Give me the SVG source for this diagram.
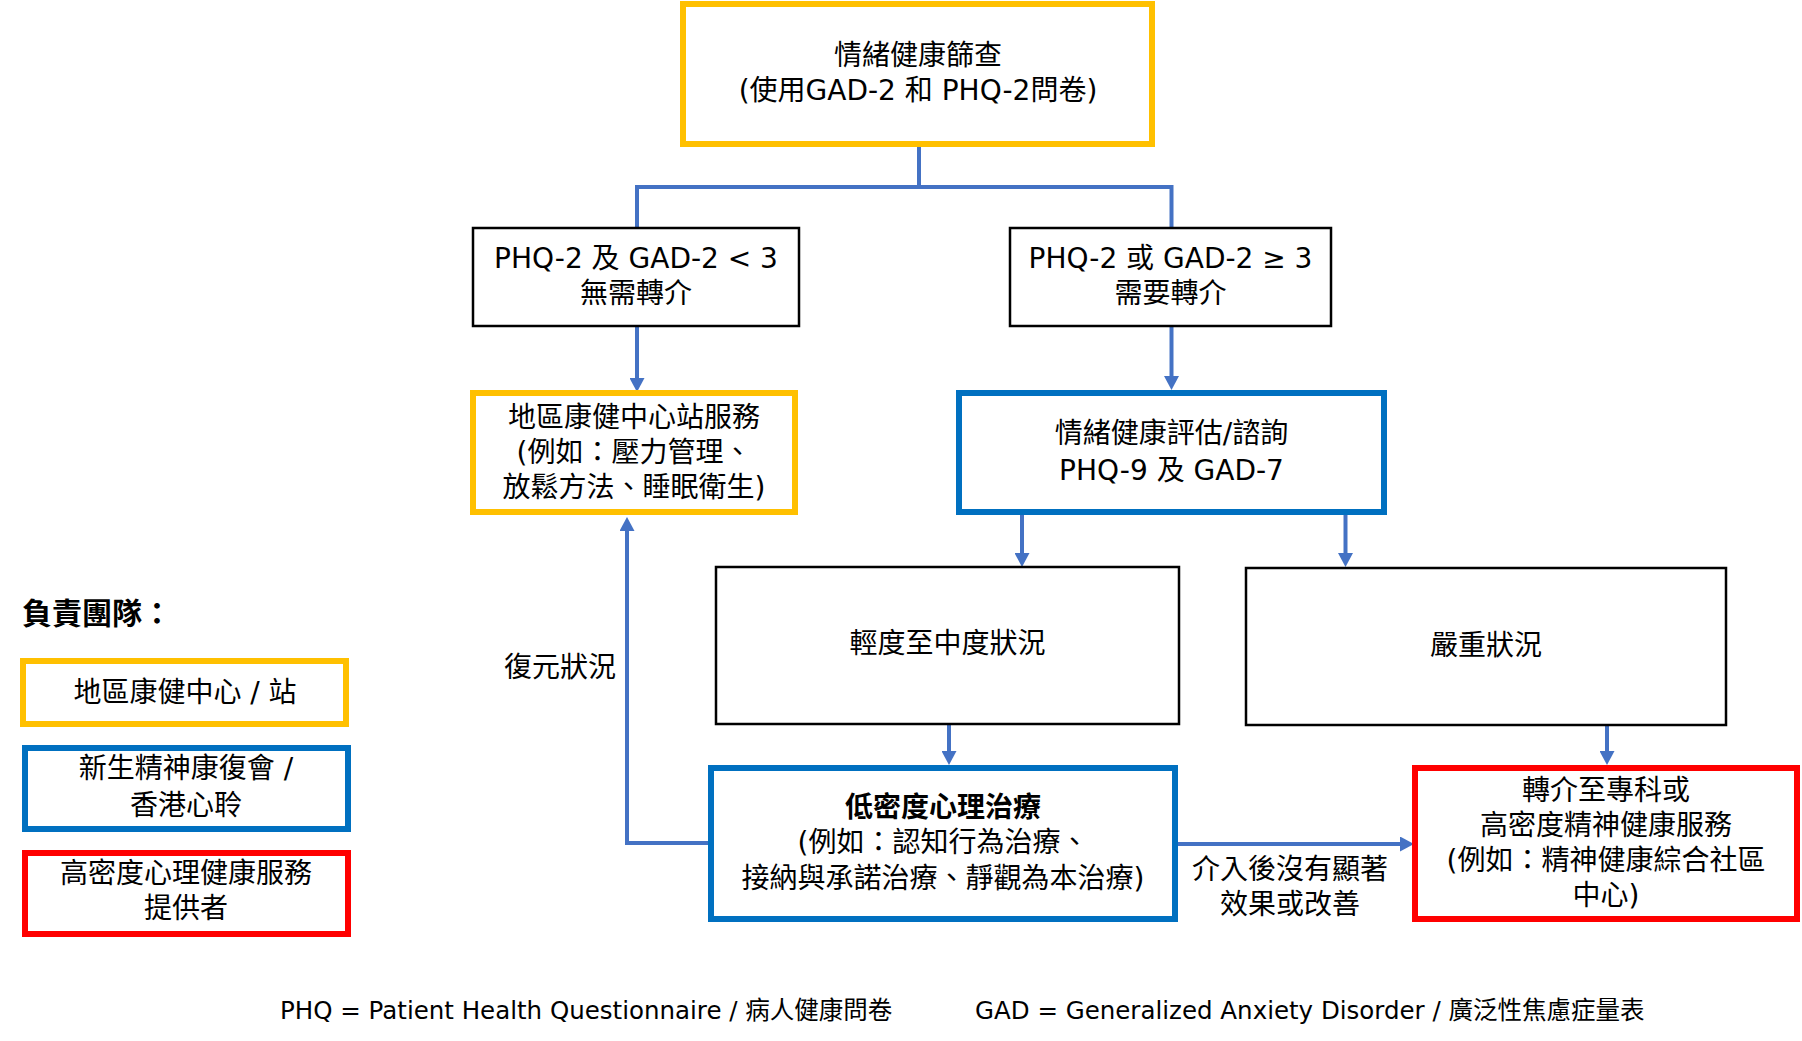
<svg xmlns="http://www.w3.org/2000/svg" width="1802" height="1041" viewBox="0 0 1802 1041">
<style>
text{font-family:"DejaVu Sans","Noto Sans CJK TC",sans-serif;font-size:28px;fill:#000;text-anchor:middle}
.y{fill:#fff;stroke:#FFC000;stroke-width:6}
.b{fill:#fff;stroke:#0070C0;stroke-width:6}
.r{fill:#fff;stroke:#FF0000;stroke-width:6}
.k{fill:#fff;stroke:#000;stroke-width:2.5}
.c{fill:none;stroke:#4472C4;stroke-width:4}
.a{marker-end:url(#ah)}
.bold{font-weight:bold}
.ft{font-size:24.5px;text-anchor:start}
</style>
<defs>
<marker id="ah" markerUnits="userSpaceOnUse" viewBox="0 0 14 15" markerWidth="14" markerHeight="15" refX="4" refY="7.5" orient="auto">
<path d="M0,0 L14,7.5 L0,15 z" fill="#4472C4"/>
</marker>
</defs>
<g id="connectors">
<path class="c" d="M919 147 V187"/>
<path class="c" d="M637 228 V187 H1171.5 V228"/>
<path class="c a" d="M637 327 V382"/>
<path class="c a" d="M1171.5 327 V380"/>
<path class="c a" d="M1022 515 V557"/>
<path class="c a" d="M1345.5 515 V557"/>
<path class="c a" d="M949 725 V755"/>
<path class="c a" d="M1607 726 V755"/>
<path class="c a" d="M1178 844 H1404"/>
<path class="c a" d="M710 843 H627 V527"/>
</g>
<g id="screening">
<rect class="y" x="683" y="4" width="469" height="140"/>
<text x="918" y="65">情緒健康篩查</text>
<text x="918" y="100">(使用GAD-2 和 PHQ-2問卷)</text>
</g>
<g id="no-referral">
<rect class="k" x="473" y="228" width="326" height="98"/>
<text x="636" y="268">PHQ-2 及 GAD-2 &lt; 3</text>
<text x="636" y="303">無需轉介</text>
</g>
<g id="referral">
<rect class="k" x="1010" y="228" width="321" height="98"/>
<text x="1170.5" y="268">PHQ-2 或 GAD-2 ≥ 3</text>
<text x="1170.5" y="303">需要轉介</text>
</g>
<g id="dhc-service">
<rect class="y" x="473" y="393" width="322" height="119"/>
<text x="634" y="427">地區康健中心站服務</text>
<text x="634" y="462">(例如：壓力管理、</text>
<text x="634" y="497">放鬆方法、睡眠衛生)</text>
</g>
<g id="assessment">
<rect class="b" x="959" y="393" width="425" height="119"/>
<text x="1171.5" y="443">情緒健康評估/諮詢</text>
<text x="1171.5" y="480">PHQ-9 及 GAD-7</text>
</g>
<g id="mild">
<rect class="k" x="716" y="567" width="463" height="157"/>
<text x="947.5" y="653">輕度至中度狀況</text>
</g>
<g id="severe">
<rect class="k" x="1246" y="568" width="480" height="157"/>
<text x="1486" y="655">嚴重狀況</text>
</g>
<g id="low-intensity">
<rect class="b" x="711" y="768" width="464" height="151"/>
<text class="bold" x="943" y="817">低密度心理治療</text>
<text x="943" y="852">(例如：認知行為治療、</text>
<text x="943" y="888">接納與承諾治療、靜觀為本治療)</text>
</g>
<g id="high-intensity">
<rect class="r" x="1415" y="768" width="382" height="151"/>
<text x="1606" y="800">轉介至專科或</text>
<text x="1606" y="835">高密度精神健康服務</text>
<text x="1606" y="870">(例如：精神健康綜合社區</text>
<text x="1606" y="905">中心)</text>
</g>
<g id="labels">
<text x="560" y="677">復元狀況</text>
<text x="1290" y="879">介入後沒有顯著</text>
<text x="1290" y="914">效果或改善</text>
</g>
<g id="legend">
<text class="bold" x="22" y="624" style="font-size:30px;text-anchor:start">負責團隊：</text>
<rect class="y" x="23" y="661" width="323" height="63"/>
<text x="185" y="702">地區康健中心 / 站</text>
<rect class="b" x="25" y="748" width="323" height="81"/>
<text x="186" y="778">新生精神康復會 /</text>
<text x="186" y="815">香港心聆</text>
<rect class="r" x="25" y="853" width="323" height="81"/>
<text x="186" y="883">高密度心理健康服務</text>
<text x="186" y="918">提供者</text>
</g>
<g id="footer">
<text class="ft" x="280" y="1019">PHQ = Patient Health Questionnaire / 病人健康問卷</text>
<text class="ft" x="975" y="1019">GAD = Generalized Anxiety Disorder / 廣泛性焦慮症量表</text>
</g>
</svg>
